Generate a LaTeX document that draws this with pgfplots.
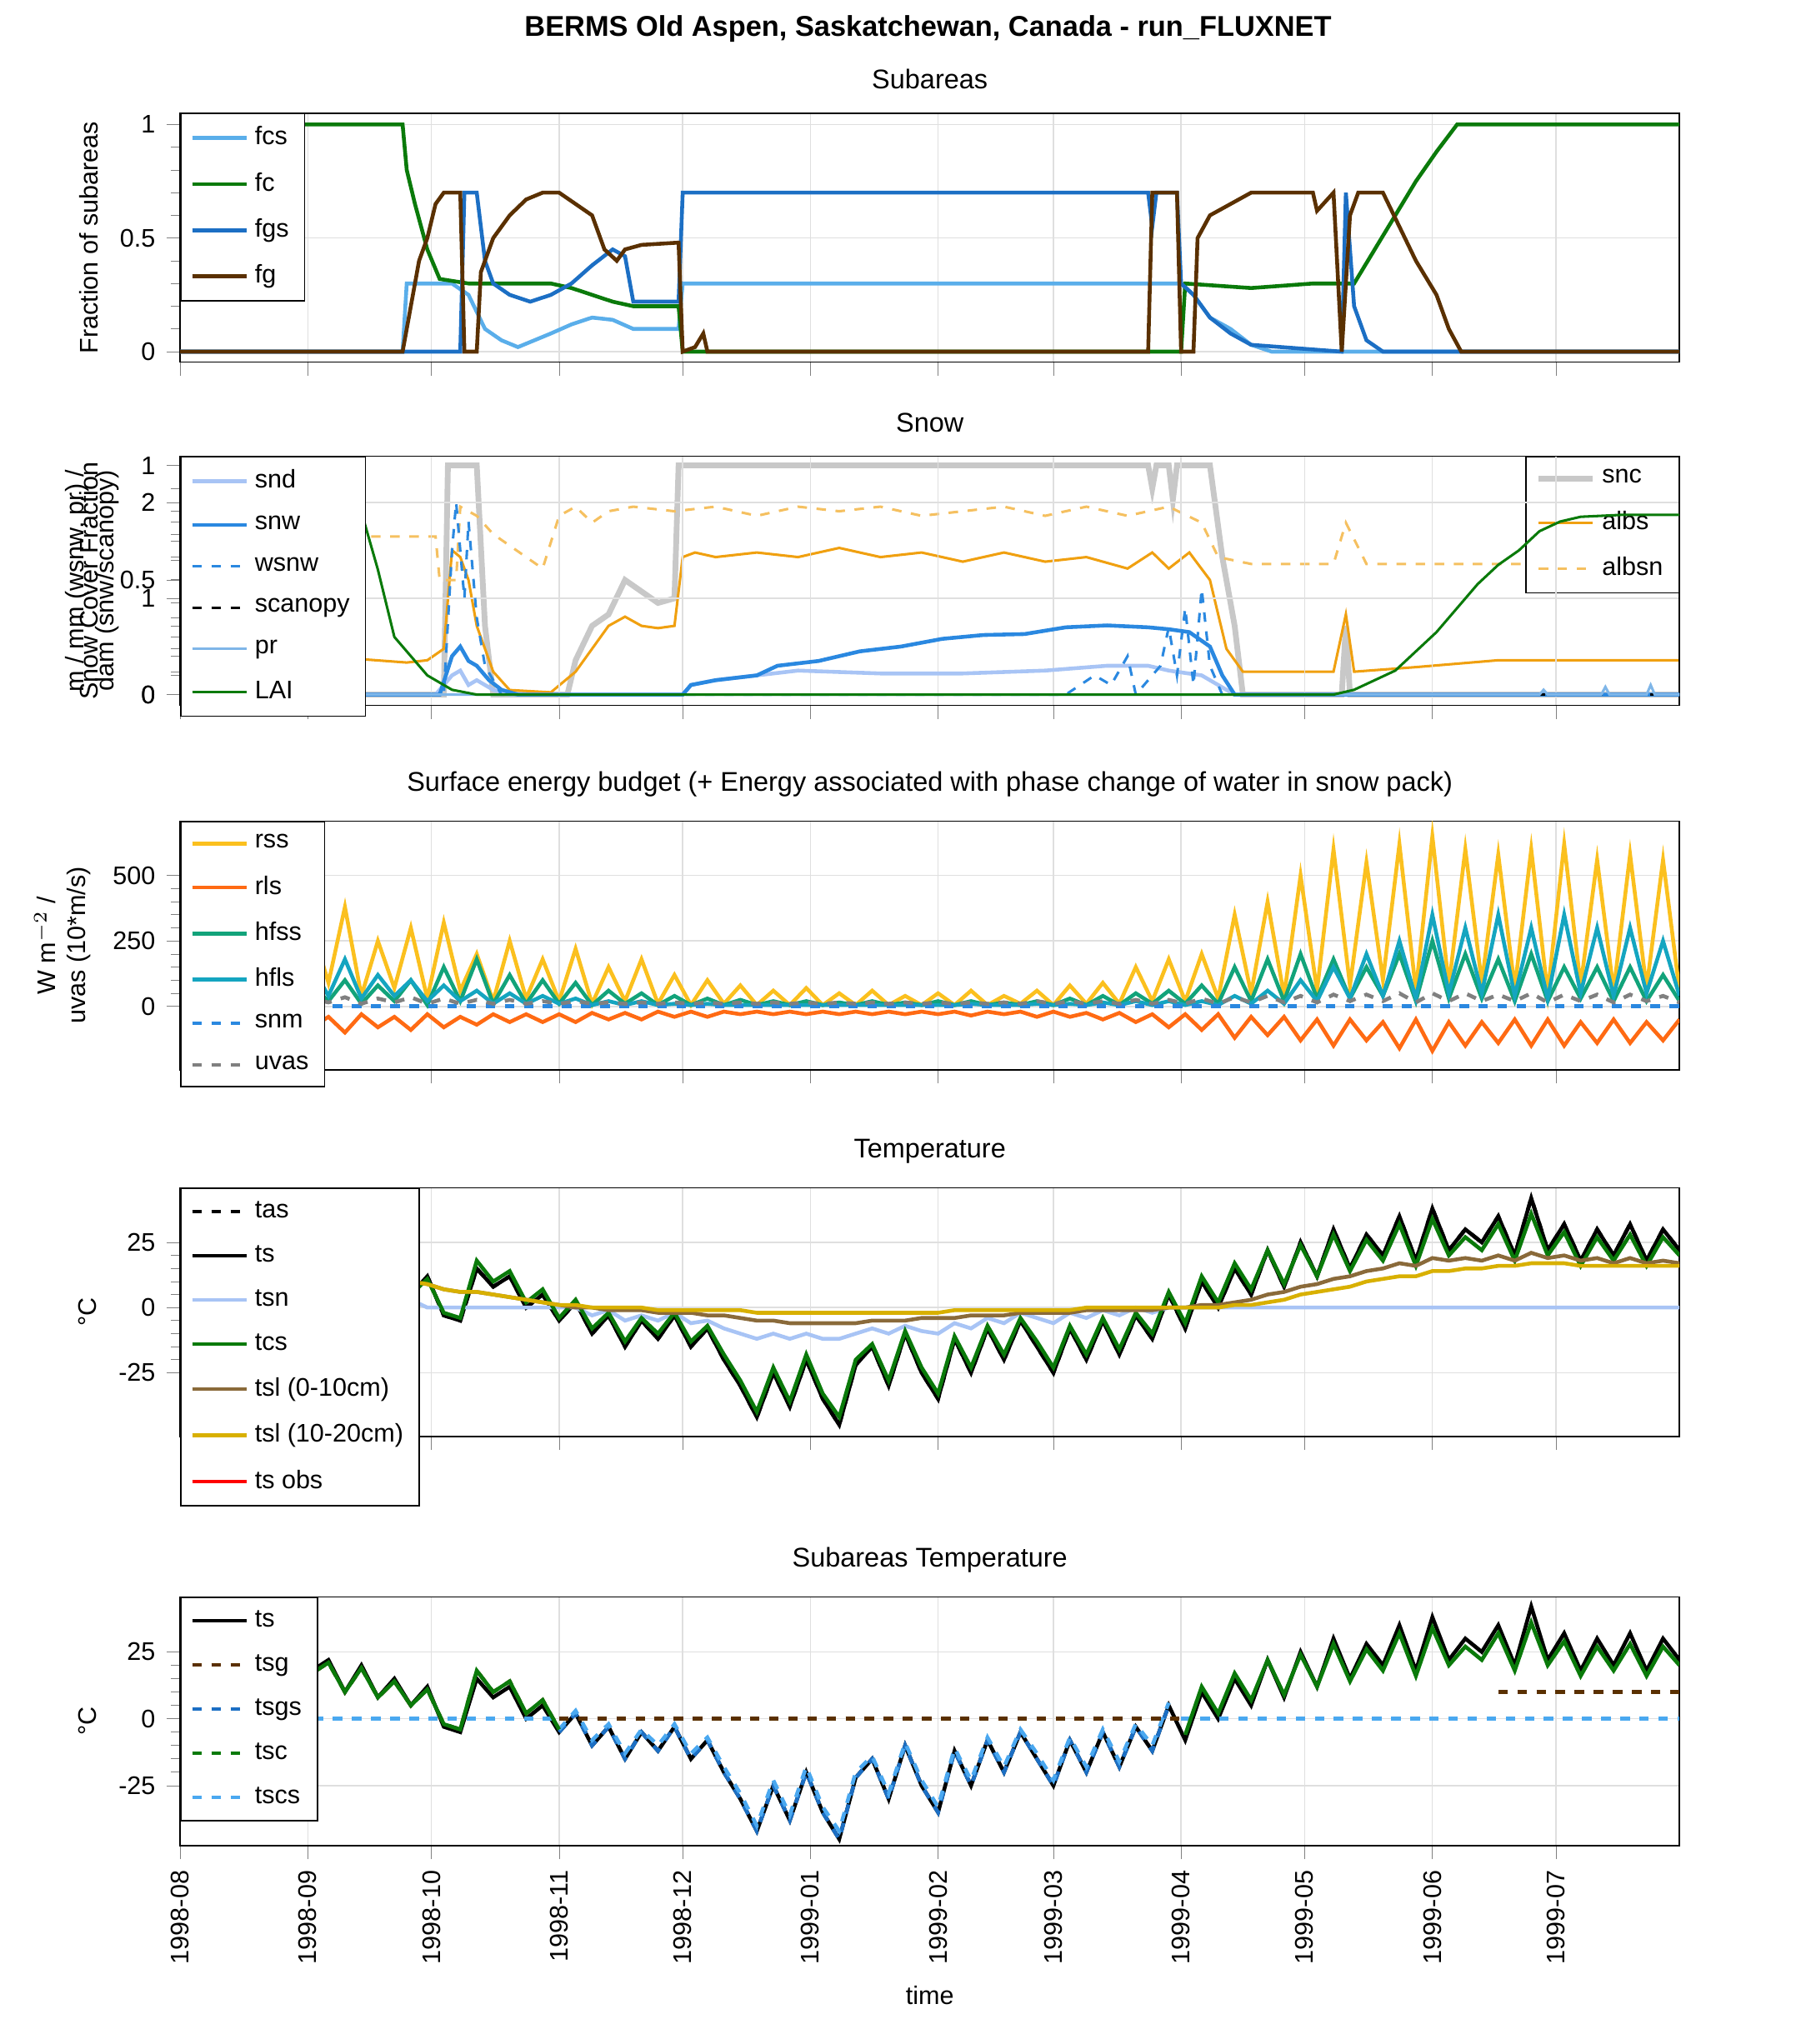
\documentclass[border=0pt]{standalone}
\usepackage{pgfplots}
\pgfplotsset{compat=1.18}
\usepackage{pgfplotstable}
\usepackage{fontspec}
\setmainfont{Liberation Sans}
\definecolor{cfcs}{HTML}{5AAEEA}\definecolor{cfc}{HTML}{0A7A0A}\definecolor{cfgs}{HTML}{1C6FC4}\definecolor{cfg}{HTML}{5A3000}
\definecolor{csnd}{HTML}{A8C4F5}\definecolor{csnw}{HTML}{2A88E0}\definecolor{cpr}{HTML}{7FB6E8}
\definecolor{csnc}{HTML}{C8C8C8}\definecolor{calbs}{HTML}{F0A010}\definecolor{calbsn}{HTML}{F5C060}
\definecolor{crss}{HTML}{FBC01E}\definecolor{crls}{HTML}{FF6A13}\definecolor{chfss}{HTML}{12A37A}\definecolor{chfls}{HTML}{14A5C0}
\definecolor{ctsl}{HTML}{8A6A3A}\definecolor{ctsld}{HTML}{D8B000}\definecolor{ctscs}{HTML}{4AA8F0}
\pgfplotstableread{
day rss rls hfss hfls uvas ts tcs tsl tsld tsn
0 450 -80 100 200 30 25 24 20 17 22
4 80 -40 20 50 10 35 33 22 18 28
8 400 -90 120 250 40 18 18 19 17 18
12 100 -50 30 60 15 30 28 21 17 25
16 350 -100 90 200 35 22 21 20 17 20
20 60 -40 10 40 10 28 27 20 17 24
24 420 -110 110 220 40 15 15 18 16 14
28 50 -30 10 30 10 25 24 19 16 20
32 300 -80 80 150 30 18 17 17 15 15
36 90 -40 20 40 15 22 21 17 15 18
40 380 -100 100 180 35 10 10 15 14 8
44 40 -30 10 30 10 20 19 15 13 15
48 250 -80 80 120 30 8 8 13 12 6
52 70 -40 20 40 15 15 14 12 11 10
56 300 -90 100 100 35 5 5 10 10 3
60 30 -30 5 20 10 12 11 9 9 0
64 320 -80 150 80 30 -3 -2 7 7 0
68 60 -40 20 20 10 -5 -4 6 6 0
72 200 -70 180 60 25 15 18 6 6 0
76 20 -30 10 10 10 8 10 5 5 0
80 250 -60 120 50 25 12 14 4 4 0
84 30 -30 10 10 10 0 2 3 3 0
88 180 -60 100 40 20 5 7 2 2 0
92 20 -30 10 10 10 -5 -4 1 1 0
96 220 -60 90 30 20 2 3 0 1 0
100 10 -25 5 5 10 -10 -8 0 0 -3
104 150 -50 60 20 15 -3 -2 -1 0 -1
108 20 -25 10 5 10 -15 -13 -1 0 -5
112 180 -50 50 20 15 -5 -4 -1 0 -3
116 10 -20 5 5 10 -12 -10 -2 -1 -5
120 120 -40 40 10 15 -3 -2 -2 -1 -2
124 5 -20 5 5 10 -15 -13 -2 -1 -6
128 100 -40 30 10 15 -8 -7 -3 -1 -5
132 10 -20 5 5 10 -20 -18 -3 -1 -8
136 80 -30 25 5 15 -30 -28 -4 -1 -10
140 5 -20 5 5 10 -42 -40 -5 -2 -12
144 60 -30 20 5 15 -25 -23 -5 -2 -10
148 5 -20 5 5 10 -38 -36 -6 -2 -12
152 70 -30 20 5 15 -20 -18 -6 -2 -10
156 5 -20 5 5 10 -35 -33 -6 -2 -12
160 50 -30 15 5 15 -45 -42 -6 -2 -12
164 5 -20 5 5 10 -22 -20 -6 -2 -10
168 60 -30 20 5 15 -15 -14 -5 -2 -8
172 5 -20 5 5 10 -30 -28 -5 -2 -10
176 40 -30 15 5 15 -10 -9 -5 -2 -7
180 5 -20 5 5 10 -25 -23 -4 -2 -9
184 50 -30 20 5 15 -35 -33 -4 -2 -10
188 5 -20 5 5 10 -12 -11 -4 -1 -6
192 60 -35 20 10 15 -25 -23 -3 -1 -8
196 5 -20 5 5 10 -8 -7 -3 -1 -4
200 40 -30 15 5 15 -20 -18 -3 -1 -6
204 10 -20 5 5 10 -5 -4 -2 -1 -2
208 60 -40 20 10 20 -15 -13 -2 -1 -4
212 5 -20 5 5 10 -25 -23 -2 -1 -6
216 80 -40 30 10 20 -8 -7 -2 -1 -2
220 10 -25 5 5 10 -20 -18 -1 0 -4
224 90 -50 40 15 20 -5 -4 -1 0 -1
228 10 -25 5 5 10 -18 -16 -1 0 -3
232 150 -60 50 20 25 -3 -2 -1 0 0
236 20 -30 10 5 10 -12 -10 -1 0 -2
240 180 -80 60 20 25 5 6 0 0 0
244 20 -30 10 5 10 -8 -6 0 0 0
248 200 -90 80 20 30 10 12 1 0 0
252 30 -30 10 5 10 0 2 1 0 0
256 350 -120 150 40 35 15 17 2 1 0
260 50 -40 20 10 15 5 7 3 1 0
264 400 -110 180 60 40 22 22 5 2 0
268 40 -40 20 10 15 8 9 6 3 0
272 500 -130 200 100 40 25 24 8 5 0
276 60 -50 30 20 15 12 12 9 6 0
280 600 -150 180 150 45 30 28 11 7 0
284 80 -50 30 30 20 15 14 12 8 0
288 550 -130 150 200 45 28 26 14 10 0
292 100 -60 40 40 20 20 18 15 11 0
296 620 -160 200 250 50 35 32 17 12 0
300 60 -50 20 30 15 18 16 16 12 0
304 650 -170 250 350 50 38 34 19 14 0
308 80 -60 30 50 20 22 20 18 14 0
312 600 -150 200 300 50 30 27 19 15 0
316 90 -60 30 50 20 25 22 18 15 0
320 580 -140 180 350 45 35 32 20 16 0
324 70 -50 20 40 20 20 18 18 16 0
328 600 -150 200 300 50 42 36 21 17 0
332 50 -50 20 30 15 22 20 19 17 0
336 620 -150 150 350 45 32 29 20 17 0
340 80 -60 30 50 20 18 16 18 16 0
344 560 -140 150 300 45 30 27 19 16 0
348 60 -50 20 40 15 20 18 17 16 0
352 580 -140 150 300 45 32 28 19 16 0
356 70 -60 20 50 20 18 16 17 16 0
360 560 -130 120 250 40 30 27 18 16 0
364 60 -50 20 40 15 22 20 17 16 0
}\tab
\tikzset{lab/.style={anchor=south east, font=\bfseries\fontsize{8.5}{10}\selectfont}}
\pgfplotsset{
 base/.style={anchor=north west, width=16.56cm, height=2.75cm, scale only axis,
  xmin=0, xmax=364, xtick={0,31,61,92,122,153,184,212,243,273,304,334}, xticklabels={},
  minor x tick num=3, minor y tick num=4, grid=major, major grid style={gray!25},
  tick align=outside, tick pos=left, title style={yshift=-2pt, font=\fontsize{8.5}{10}\selectfont},
  /pgf/number format/assume math mode=true,
  legend style={at={(0,1)}, anchor=north west, draw=black, fill=white, row sep=3.2pt, font=\fontsize{8}{9}\selectfont},
  legend cell align=left,
  every axis plot/.append style={line width=1.2pt},
  ylabel style={font=\fontsize{8}{9.5}\selectfont, align=center},
  tick label style={font=\fontsize{8}{9}\selectfont}}}
\begin{document}
\begin{tikzpicture}[font=\fontsize{8}{9.5}\selectfont]
\useasboundingbox (0,0) rectangle (20cm,-22.58cm);
\node[font=\bfseries\fontsize{9}{11}\selectfont] at (10.25cm,-0.32cm) {BERMS Old Aspen, Saskatchewan, Canada - run\_FLUXNET};
% (a)
\begin{axis}[base, at={(1.99cm,-1.25cm)}, title={Subareas}, ymin=-0.046, ymax=1.05, ytick={0,0.5,1}, ylabel={Fraction of subareas}]
\addplot[cfcs] coordinates {(0,0)(54,0)(55,0.3)(62,0.3)(66,0.3)(70,0.25)(74,0.1)(78,0.05)(82,0.02)(86,0.05)(90,0.08)(95,0.12)(100,0.15)(105,0.14)(110,0.1)(121,0.1)(122,0.3)(243,0.3)(246,0.25)(250,0.15)(255,0.1)(260,0.03)(265,0)(364,0)};
\addlegendentry{fcs}
\addplot[cfc] coordinates {(0,1)(54,1)(55,0.8)(57,0.65)(60,0.45)(63,0.32)(70,0.3)(80,0.3)(90,0.3)(95,0.28)(100,0.25)(105,0.22)(110,0.2)(115,0.2)(121,0.2)(122,0)(243,0)(244,0.3)(260,0.28)(275,0.3)(285,0.3)(290,0.45)(295,0.6)(300,0.75)(305,0.88)(310,1)(364,1)};
\addlegendentry{fc}
\addplot[cfgs] coordinates {(0,0)(68,0)(69,0.7)(72,0.7)(74,0.4)(76,0.3)(80,0.25)(85,0.22)(90,0.25)(95,0.3)(100,0.38)(105,0.45)(108,0.42)(110,0.22)(121,0.22)(122,0.7)(235,0.7)(236,0.55)(237,0.7)(242,0.7)(243,0.3)(246,0.25)(250,0.15)(255,0.08)(260,0.03)(282,0)(283,0.7)(285,0.2)(288,0.05)(292,0)(364,0)};
\addlegendentry{fgs}
\addplot[cfg] coordinates {(0,0)(54,0)(56,0.2)(58,0.4)(60,0.5)(62,0.65)(64,0.7)(68,0.7)(69,0)(72,0)(73,0.35)(76,0.5)(80,0.6)(84,0.67)(88,0.7)(92,0.7)(96,0.65)(100,0.6)(103,0.45)(106,0.4)(108,0.45)(112,0.47)(121,0.48)(122,0)(125,0.02)(127,0.08)(128,0)(235,0)(236,0.7)(242,0.7)(243,0)(246,0)(247,0.5)(250,0.6)(255,0.65)(260,0.7)(275,0.7)(276,0.62)(280,0.7)(282,0)(284,0.6)(286,0.7)(292,0.7)(296,0.55)(300,0.4)(305,0.25)(308,0.1)(311,0)(364,0)};
\addlegendentry{fg}
\node[lab] at (rel axis cs:1,1) {(a)};
\end{axis}
% (b) right
\begin{axis}[base, at={(1.99cm,-5.04cm)}, axis y line*=right, axis x line=none, grid=none, ymin=-0.046, ymax=1.04, ytick={0,0.5,1}, ylabel={Snow Cover Fraction}, legend style={at={(1,1)}, anchor=north east}]
\addplot[csnc, line width=1.8pt] coordinates {(0,0)(64,0)(65,1)(72,1)(74,0.3)(76,0)(94,0)(96,0.15)(100,0.3)(104,0.35)(108,0.5)(112,0.45)(116,0.4)(120,0.42)(121,1)(235,1)(236,0.9)(237,1)(240,1)(241,0.85)(242,1)(250,1)(253,0.6)(256,0.3)(258,0)(282,0)(283,0.3)(284,0)(364,0)};
\addlegendentry{snc}
\addplot[calbs, line width=0.8pt] coordinates {(0,0.15)(40,0.16)(55,0.14)(60,0.15)(64,0.2)(66,0.63)(68,0.6)(70,0.5)(72,0.3)(76,0.1)(80,0.02)(90,0.01)(96,0.1)(100,0.2)(104,0.3)(108,0.34)(112,0.3)(116,0.29)(120,0.3)(122,0.6)(125,0.62)(130,0.6)(140,0.62)(150,0.6)(160,0.64)(170,0.6)(180,0.62)(190,0.58)(200,0.62)(210,0.58)(220,0.6)(230,0.55)(236,0.62)(240,0.55)(245,0.62)(250,0.5)(254,0.2)(258,0.1)(280,0.1)(283,0.35)(285,0.1)(300,0.12)(320,0.15)(364,0.15)};
\addlegendentry{albs}
\addplot[calbsn, dashed, line width=0.8pt] coordinates {(0,0.69)(62,0.69)(63,0.5)(67,0.5)(68,0.82)(72,0.78)(76,0.7)(80,0.65)(88,0.55)(92,0.78)(96,0.82)(100,0.75)(104,0.8)(110,0.82)(120,0.8)(130,0.82)(140,0.78)(150,0.82)(160,0.8)(170,0.82)(180,0.78)(190,0.8)(200,0.82)(210,0.78)(220,0.82)(230,0.78)(240,0.82)(248,0.75)(252,0.6)(260,0.57)(280,0.57)(283,0.75)(288,0.57)(364,0.57)};
\addlegendentry{albsn}
\end{axis}
% (b) left
\begin{axis}[base, at={(1.99cm,-5.04cm)}, title={Snow}, ymin=-0.11, ymax=2.48, ytick={0,1,2}, tick pos=left, ylabel={m / mm (wsnw, pr) /\\dam (snw/scanopy)}]
\addplot[csnd] coordinates {(0,0)(62,0)(66,0.2)(68,0.25)(70,0.1)(72,0.15)(76,0.05)(80,0)(122,0)(124,0.1)(130,0.15)(140,0.2)(150,0.25)(170,0.22)(190,0.22)(210,0.25)(225,0.3)(235,0.3)(240,0.25)(248,0.2)(252,0.1)(256,0)(364,0)};
\addlegendentry{snd}
\addplot[csnw] coordinates {(0,0)(63,0)(66,0.4)(68,0.5)(70,0.35)(72,0.3)(75,0.15)(78,0.05)(82,0)(122,0)(124,0.1)(130,0.15)(140,0.2)(145,0.3)(155,0.35)(165,0.45)(175,0.5)(185,0.58)(195,0.62)(205,0.63)(215,0.7)(225,0.72)(235,0.7)(240,0.68)(245,0.65)(250,0.5)(253,0.2)(256,0)(364,0)};
\addlegendentry{snw}
\addplot[csnw, dashed, line width=0.8pt] coordinates {(0,0)(64,0)(66,1.5)(67,2)(69,1)(70,1.8)(72,0.8)(74,0.3)(78,0)(215,0)(222,0.2)(226,0.1)(230,0.4)(232,0)(238,0.3)(240,0.7)(242,0.2)(244,0.9)(246,0.1)(248,1.1)(250,0.3)(253,0)(364,0)};
\addlegendentry{wsnw}
\addplot[black, dashed, line width=0.8pt] coordinates {(0,0)(364,0)};
\addlegendentry{scanopy}
\addplot[cpr, line width=0.8pt] coordinates {(0,0)(330,0)(331,0.05)(332,0)(345,0)(346,0.08)(347,0)(356,0)(357,0.1)(358,0)(364,0)};
\addlegendentry{pr}
\addplot[cfc, line width=0.8pt] coordinates {(0,2.35)(30,2.3)(42,2.2)(48,1.3)(52,0.6)(56,0.4)(60,0.2)(66,0.05)(72,0)(280,0)(285,0.05)(290,0.15)(295,0.25)(300,0.45)(305,0.65)(310,0.9)(315,1.15)(320,1.35)(325,1.5)(330,1.7)(335,1.8)(340,1.85)(350,1.87)(364,1.87)};
\addlegendentry{LAI}
\node[lab] at (rel axis cs:1,1) {(b)};
\end{axis}
% (c)
\begin{axis}[base, at={(1.99cm,-9.07cm)}, title={Surface energy budget (+ Energy associated with phase change of water in snow pack)}, ymin=-243, ymax=708, ytick={0,250,500}, ylabel={W m$^{-2}$ /\\uvas (10*m/s)}]
\addplot[crss] table[x=day,y=rss] {\tab}; \addlegendentry{rss}
\addplot[crls] table[x=day,y=rls] {\tab}; \addlegendentry{rls}
\addplot[chfss] table[x=day,y=hfss] {\tab}; \addlegendentry{hfss}
\addplot[chfls] table[x=day,y=hfls] {\tab}; \addlegendentry{hfls}
\addplot[csnw, dashed] coordinates {(0,0)(364,0)}; \addlegendentry{snm}
\addplot[gray, dashed] table[x=day,y=uvas] {\tab}; \addlegendentry{uvas}
\node[lab] at (rel axis cs:1,1) {(c)};
\end{axis}
% (d)
\begin{axis}[base, at={(1.99cm,-13.12cm)}, title={Temperature}, ymin=-49.5, ymax=46, ytick={-25,0,25}, ylabel={\textdegree C}]
\addplot[black, dashed] table[x=day,y=ts] {\tab}; \addlegendentry{tas}
\addplot[black] table[x=day,y=ts] {\tab}; \addlegendentry{ts}
\addplot[csnd] table[x=day,y=tsn] {\tab}; \addlegendentry{tsn}
\addplot[cfc] table[x=day,y=tcs] {\tab}; \addlegendentry{tcs}
\addplot[ctsl] table[x=day,y=tsl] {\tab}; \addlegendentry{tsl (0-10cm)}
\addplot[ctsld] table[x=day,y=tsld] {\tab}; \addlegendentry{tsl (10-20cm)}
\addlegendimage{red, line width=1.2pt} \addlegendentry{ts obs}
\node[lab] at (rel axis cs:1,1) {(d)};
\end{axis}
% (e)
\begin{axis}[base, at={(1.99cm,-17.64cm)}, title={Subareas Temperature}, ymin=-47.5, ymax=45.6, ytick={-25,0,25}, ylabel={\textdegree C},
 xticklabels={1998-08,1998-09,1998-10,1998-11,1998-12,1999-01,1999-02,1999-03,1999-04,1999-05,1999-06,1999-07}, xticklabel style={rotate=90, anchor=east}, xlabel={time}]
\addplot[black] table[x=day,y=ts] {\tab}; \addlegendentry{ts}
\addplot[cfg, dashed, restrict x to domain=0:92] table[x=day,y=tcs] {\tab}; \addlegendentry{tsg}
\addplot[cfgs, dashed, restrict x to domain=92:243] table[x=day,y=ts] {\tab}; \addlegendentry{tsgs}
\addplot[cfc, dashed] coordinates {(92,0)(243,0)}; \addlegendentry{tsc}
\addplot[ctscs, dashed, restrict x to domain=92:243] table[x=day,y=tcs] {\tab}; \addlegendentry{tscs}
\addplot[cfg, dashed, forget plot] coordinates {(92,0)(243,0)};
\addplot[cfg, dashed, forget plot] coordinates {(320,10)(364,10)};
\addplot[ctscs, dashed, forget plot] coordinates {(0,0)(92,0)};
\addplot[ctscs, dashed, forget plot] coordinates {(243,0)(364,0)};
\addplot[cfc, forget plot, restrict x to domain=0:92] table[x=day,y=tcs] {\tab};
\addplot[cfc, forget plot, restrict x to domain=243:364] table[x=day,y=tcs] {\tab};
\node[lab] at (rel axis cs:1,1) {(e)};
\end{axis}
\end{tikzpicture}
\end{document}
